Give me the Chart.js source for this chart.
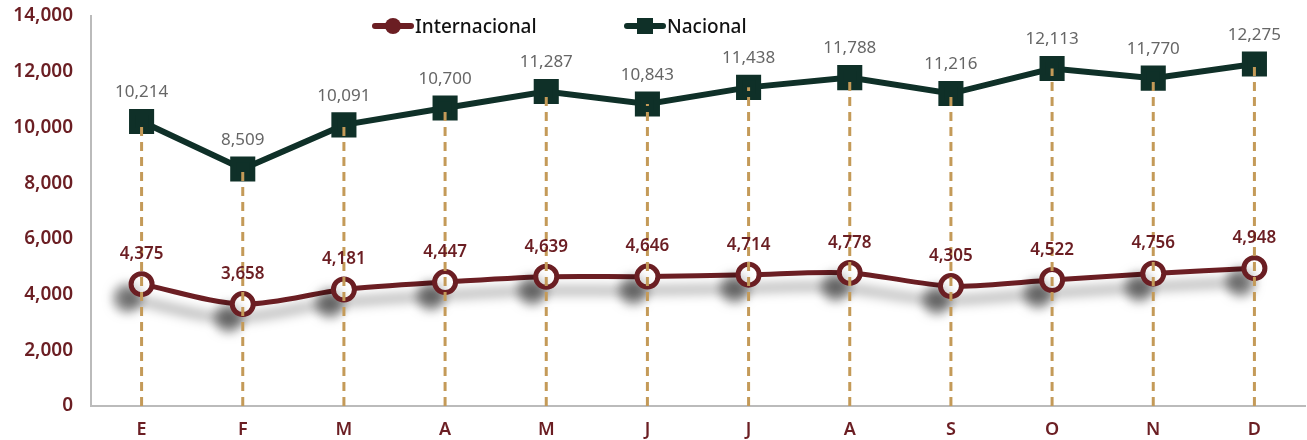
<!DOCTYPE html>
<html>
<head>
<meta charset="utf-8">
<script src="https://cdn.jsdelivr.net/npm/chart.js@4/dist/chart.umd.min.js"></script>
<style>
  body { margin: 0; background: #fff; overflow: hidden; }
  #wrap { position: relative; width: 1307px; height: 440px; }
  canvas { display: block; }
  .legend { position: absolute; top: 13px; font: 500 19px "Noto Sans", sans-serif; color: #111; display: flex; align-items: center; }
  .sym { position: relative; width: 42px; height: 26px; margin-right: 1px; }
  .sym .ln { position: absolute; left: 0; right: 0; top: 10px; height: 6px; border-radius: 3px; }
  .sym .mk { position: absolute; left: 13px; top: 5px; width: 16px; height: 16px; }
</style>
</head>
<body>
<div id="wrap">
  <canvas id="myChart" width="1307" height="440"></canvas>
  <div class="legend" style="left:372px">
    <div class="sym"><div class="ln" style="background:#6b1e23"></div><div class="mk" style="background:#6b1e23;border-radius:50%"></div></div>Internacional
  </div>
  <div class="legend" style="left:624px">
    <div class="sym"><div class="ln" style="background:#0f3028"></div><div class="mk" style="background:#0f3028"></div></div>Nacional
  </div>
</div>
<script>
const months = ['E', 'F', 'M', 'A', 'M', 'J', 'J', 'A', 'S', 'O', 'N', 'D'];
const internacional = [4375, 3658, 4181, 4447, 4639, 4646, 4714, 4778, 4305, 4522, 4756, 4948];
const nacional = [10214, 8509, 10091, 10700, 11287, 10843, 11438, 11788, 11216, 12113, 11770, 12275];

const RED = '#6b1e23';
const GREEN = '#0f3028';
const fmt = (v) => v.toLocaleString('en-US');

// shadow under the Internacional line
const shadowPlugin = {
    id: 'shadow',
    beforeDatasetDraw(chart, args) {
        if (args.index !== 0) return;
        const ctx = chart.ctx;
        ctx.save();
        ctx.shadowColor = 'rgba(0,0,0,0.5)';
        ctx.shadowBlur = 12;
        ctx.shadowOffsetX = -14;
        ctx.shadowOffsetY = 14;
    },
    afterDatasetDraw(chart, args) {
        if (args.index !== 0) return;
        chart.ctx.restore();
    },
};

// dashed drop lines + value labels
const extras = {
    id: 'extras',
    afterDatasetsDraw(chart) {
        const ctx = chart.ctx;
        const y = chart.scales.y;
        const top = chart.getDatasetMeta(1).data;
        ctx.save();
        ctx.strokeStyle = '#c49a58';
        ctx.lineWidth = 3;
        ctx.setLineDash([9, 6]);
        top.forEach((pt) => {
            ctx.beginPath();
            ctx.moveTo(pt.x, y.getPixelForValue(0));
            ctx.lineTo(pt.x, pt.y);
            ctx.stroke();
        });
        ctx.setLineDash([]);
        ctx.textAlign = 'center';
        ctx.textBaseline = 'middle';
        ctx.font = '17px "Noto Sans", sans-serif';
        ctx.fillStyle = '#666';
        top.forEach((pt, i) => ctx.fillText(fmt(nacional[i]), pt.x, pt.y - 29));
        ctx.font = '600 17px "Noto Sans", sans-serif';
        ctx.fillStyle = RED;
        chart.getDatasetMeta(0).data.forEach((pt, i) => ctx.fillText(fmt(internacional[i]), pt.x, pt.y - 30));
        ctx.restore();
    },
};

const noPad = (s) => { s.paddingTop = 0; s.paddingBottom = 0; s.paddingLeft = 0; s.paddingRight = 0; };

new Chart(document.getElementById('myChart'), {
    type: 'line',
    data: {
        labels: months,
        datasets: [
            {
                label: 'Internacional',
                data: internacional,
                borderColor: RED,
                borderWidth: 5,
                pointStyle: 'circle',
                pointRadius: 10.5,
                pointBorderWidth: 5,
                pointBackgroundColor: '#fff',
                pointBorderColor: RED,
                tension: 0.3,
            },
            {
                label: 'Nacional',
                data: nacional,
                borderColor: GREEN,
                borderWidth: 6,
                pointStyle: 'rect',
                pointRadius: 13.5,
                pointBackgroundColor: GREEN,
                pointBorderColor: GREEN,
                tension: 0,
            },
        ],
    },
    options: {
        responsive: false,
        animation: false,
        layout: { autoPadding: false, padding: { top: 16, right: 2, left: 0, bottom: 0 } },
        plugins: { legend: { display: false }, tooltip: { enabled: false } },
        scales: {
            x: {
                offset: true,
                grid: { display: false, drawTicks: false },
                border: { color: '#bbb', width: 2 },
                ticks: { color: RED, padding: 13, font: { family: 'Noto Sans', size: 18, weight: 600 } },
                afterFit: (s) => { s.height = 34; noPad(s); },
            },
            y: {
                min: 0,
                max: 14000,
                grid: { display: false, drawTicks: false },
                border: { color: '#bbb', width: 2 },
                ticks: {
                    stepSize: 2000,
                    color: RED,
                    padding: 18,
                    font: { family: 'Noto Sans', size: 19, weight: 600 },
                    callback: (v) => fmt(v),
                },
                afterFit: (s) => { s.width = 91; noPad(s); },
            },
        },
    },
    plugins: [shadowPlugin, extras],
});
</script>
</body>
</html>
